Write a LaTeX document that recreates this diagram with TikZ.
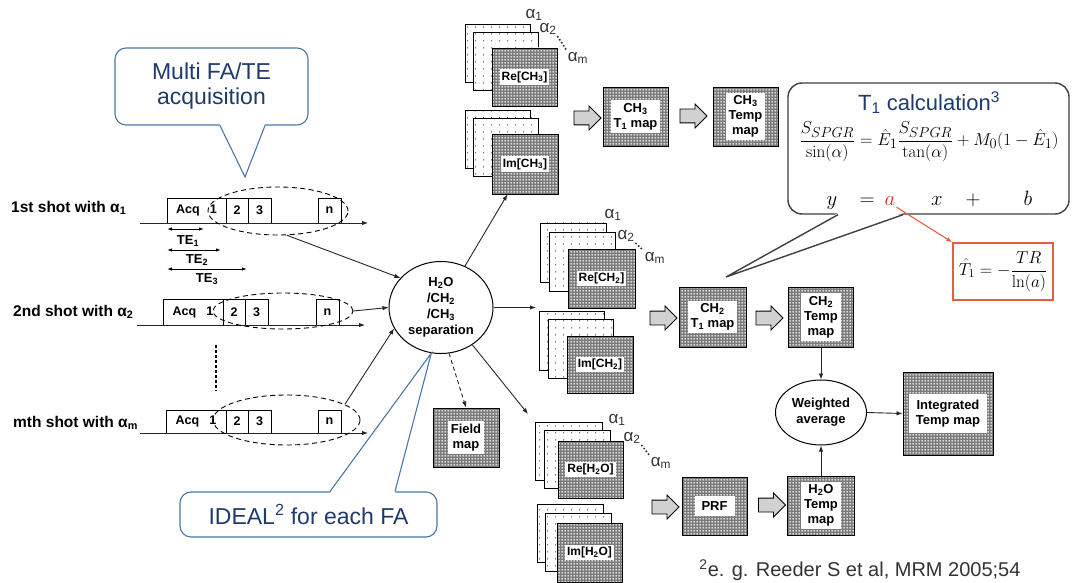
\documentclass[tikz,border=0pt]{standalone}
\usepackage[no-math]{fontspec}
\setmainfont{Liberation Sans}
\usetikzlibrary{arrows.meta,patterns,shapes.geometric,shapes.arrows}

\definecolor{calloutblue}{HTML}{4A76A8}
\definecolor{callouttext}{HTML}{1F3B6B}
\definecolor{formred}{HTML}{E02A20}
\definecolor{boxred}{HTML}{E2603F}

% dense mesh for the map boxes, sparse dots for the image sheets
\pgfdeclarepatternformonly{meshdots}{\pgfqpoint{0pt}{0pt}}{\pgfqpoint{3pt}{3pt}}{\pgfqpoint{3pt}{3pt}}{\pgfpathcircle{\pgfqpoint{1.5pt}{1.5pt}}{1.05pt}\pgfusepath{fill}}
\pgfdeclarepatternformonly{sparsedots}{\pgfqpoint{0pt}{0pt}}{\pgfqpoint{8pt}{7pt}}{\pgfqpoint{8pt}{7pt}}{\pgfpathcircle{\pgfqpoint{4pt}{3.5pt}}{0.7pt}\pgfusepath{fill}}

\tikzset{
  arr/.style={-{Latex[length=6pt,width=4.5pt]}, line width=0.9pt, black!85},
  dimarr/.style={{Latex[length=5pt,width=3.5pt]}-{Latex[length=5pt,width=3.5pt]}, line width=0.9pt},
  lbl/.style={font=\fontsize{15.5}{17}\selectfont\bfseries, inner sep=0pt},
  telbl/.style={font=\fontsize{13}{15}\selectfont\bfseries, inner sep=0pt},
  tbox/.style={draw, line width=0.9pt, minimum height=25pt, inner sep=0pt, font=\fontsize{12.5}{14}\selectfont\bfseries},
  echo/.style={ellipse, draw, line width=0.9pt, dash pattern=on 5pt off 3.5pt, inner sep=0pt},
  sepnode/.style={ellipse, draw, line width=1pt, fill=white, minimum width=104pt, minimum height=92pt, inner sep=0pt, align=center, font=\fontsize{13}{16}\selectfont\bfseries},
  sheet/.style={draw, line width=0.8pt, preaction={fill=white}, pattern=sparsedots, pattern color=black!85},
  mapbox/.style={draw, line width=0.9pt, preaction={fill=black!52}, pattern=meshdots, pattern color=white, minimum width=65pt, minimum height=59pt, inner sep=0pt},
  maptxt/.style={fill=white, inner sep=3pt, align=center, font=\fontsize{13}{15}\selectfont\bfseries},
  stacktxt/.style={fill=white, inner sep=2pt, font=\fontsize{12}{14}\selectfont\bfseries},
  alph/.style={font=\fontsize{17}{17}\selectfont, text=black!80, inner sep=0pt},
  alphdots/.style={line width=2.2pt, dash pattern=on 0pt off 3.6pt, line cap=round, black!80, shorten <=2pt, shorten >=2pt},
  barrow/.style={single arrow, draw, line width=0.8pt, fill=black!18, minimum height=27pt, minimum width=23pt, inner xsep=0pt, inner ysep=6.5pt, single arrow head extend=5pt},
  wavgnode/.style={ellipse, draw, line width=1pt, minimum width=91pt, minimum height=65pt, inner sep=0pt, align=center, font=\fontsize{13}{16}\selectfont\bfseries},
  callout/.style={draw=calloutblue, line width=1.1pt, rounded corners=11pt, fill=white, text=callouttext, align=center, font=\fontsize{23}{25}\selectfont, inner sep=0pt},
  calloutline/.style={draw=calloutblue, line width=1.1pt},
  t1call/.style={draw=black!75, line width=1.4pt, rounded corners=14pt, fill=white, inner sep=0pt},
  t1line/.style={draw=black!75, line width=1.4pt},
  eqsym/.style={font=\fontsize{22}{24}\selectfont, inner sep=1pt, anchor=base},
  t1hatbox/.style={draw=boxred, line width=1.4pt, fill=white, font=\fontsize{17}{19}\selectfont, inner sep=0pt},
  redarr/.style={-{Latex[length=6pt,width=4.5pt]}, draw=boxred, line width=1.1pt},
}

\begin{document}
\begin{tikzpicture}[x=1pt,y=-1pt]
  \useasboundingbox (0,0) rectangle (1072,583);

  % callout over the acquisition
  \node[callout, minimum width=193pt, minimum height=77pt] (multi) at (211.5,86.5) {Multi FA/TE\\acquisition};
  \coordinate (multitip) at (245,177);
  \fill[white] ([xshift=8.5pt,yshift=1.5pt]multi.south) -- (multitip) -- ([xshift=53.5pt,yshift=1.5pt]multi.south) -- cycle;
  \draw[calloutline] ([xshift=8.5pt]multi.south) -- (multitip) -- ([xshift=53.5pt]multi.south);

  % 1st shot
  \node[lbl, anchor=west] (shot1) at (11,208) {1st shot with α\textsubscript{1}};
  \node[tbox, minimum width=59pt] (acq1) at (196.5,210.5) {Acq\hspace{10pt}1};
  \node[tbox, minimum width=22pt] (b12) at (237,210.5) {2};
  \node[tbox, minimum width=23pt] (b13) at (259.5,210.5) {3};
  \node[tbox, minimum width=23pt] (b1n) at (329.5,210.5) {n};
  \coordinate (t1a) at (140,223);
  \coordinate (t1b) at (368,223);
  \draw[arr] (t1a) -- (t1b);
  \node[echo, minimum width=140pt, minimum height=48pt] (e1) at (278,211) {};

  \coordinate (te1a) at (167,229); \coordinate (te1b) at (204,229);
  \coordinate (te2a) at (167,250); \coordinate (te2b) at (221,250);
  \coordinate (te3a) at (167,269); \coordinate (te3b) at (247,269);
  \draw[dimarr] (te1a) -- (te1b);
  \draw[dimarr] (te2a) -- (te2b);
  \draw[dimarr] (te3a) -- (te3b);
  \node[telbl] (te1) at (188,241) {TE\textsubscript{1}};
  \node[telbl] (te2) at (197,260) {TE\textsubscript{2}};
  \node[telbl] (te3) at (207,279) {TE\textsubscript{3}};

  % 2nd shot
  \node[lbl, anchor=west] (shot2) at (13,312) {2nd shot with α\textsubscript{2}};
  \node[tbox, minimum width=60pt, minimum height=26pt] (acq2) at (193,312) {Acq\hspace{10pt}1};
  \node[tbox, minimum width=22pt, minimum height=26pt] (b22) at (234,312) {2};
  \node[tbox, minimum width=23pt, minimum height=26pt] (b23) at (256.5,312) {3};
  \node[tbox, minimum width=23pt, minimum height=26pt] (b2n) at (327.5,312) {n};
  \coordinate (t2a) at (137,325);
  \coordinate (t2b) at (365,325);
  \draw[arr] (t2a) -- (t2b);
  \node[echo, minimum width=140pt, minimum height=36pt] (e2) at (283,311) {};

  \draw[line width=2.5pt, dash pattern=on 2.5pt off 2.5pt] (216,345) -- (216,391);

  % mth shot
  \node[lbl, anchor=west] (shotm) at (13,423) {mth shot with α\textsubscript{m}};
  \node[tbox, minimum width=60pt, minimum height=23pt] (acqm) at (196,421.5) {Acq\hspace{10pt}1};
  \node[tbox, minimum width=22pt, minimum height=23pt] (bm2) at (237,421.5) {2};
  \node[tbox, minimum width=23pt, minimum height=23pt] (bm3) at (259.5,421.5) {3};
  \node[tbox, minimum width=23pt, minimum height=23pt] (bmn) at (329.5,421.5) {n};
  \coordinate (tma) at (140,433);
  \coordinate (tmb) at (368,433);
  \draw[arr] (tma) -- (tmb);
  \node[echo, minimum width=147pt, minimum height=50pt] (em) at (286.5,420) {};

  % separation
  \node[sepnode] (sep) at (441,307.5) {H\textsubscript{2}O\\/CH\textsubscript{2}\\/CH\textsubscript{3}\\separation};
  \draw[arr] (e1.-70) -- (sep.144);
  \draw[arr] (e2.east) -- (sep.west);
  \draw[arr] (em.15) -- (sep.204);

  % CH3 images
  \draw[sheet] (465,24) rectangle (530,82);
  \draw[sheet] (473,32) rectangle (538,90);
  \node[mapbox, minimum height=58pt] (rech3) at (524.5,77) {};
  \node[stacktxt] (rech3txt) at (rech3) {Re[CH\textsubscript{3}]};
  \draw[sheet] (465,110) rectangle (530,168);
  \draw[sheet] (473,118) rectangle (538,176);
  \node[mapbox, minimum width=66pt, minimum height=60pt] (imch3) at (525,164) {};
  \node[stacktxt] (imch3txt) at (imch3) {Im[CH\textsubscript{3}]};
  \node[alph] (ch3a1) at (534,15) {α\textsubscript{1}};
  \node[alph] (ch3a2) at (548,29) {α\textsubscript{2}};
  \node[alph] (ch3am) at (578,58) {α\textsubscript{m}};
  \draw[alphdots] (ch3a2.south east) -- (ch3am.north west);

  % CH2 images
  \draw[sheet] (540,223) rectangle (606,282);
  \draw[sheet] (549,232) rectangle (615,291);
  \node[mapbox, minimum width=67pt] (rech2) at (601.5,278.5) {};
  \node[stacktxt] (rech2txt) at (rech2) {Re[CH\textsubscript{2}]};
  \draw[sheet] (539,311) rectangle (604,370);
  \draw[sheet] (548,319) rectangle (613,378);
  \node[mapbox, minimum width=66pt, minimum height=57pt] (imch2) at (600,364.5) {};
  \node[stacktxt] (imch2txt) at (imch2) {Im[CH\textsubscript{2}]};
  \node[alph] (ch2a1) at (613,215) {α\textsubscript{1}};
  \node[alph] (ch2a2) at (626,236) {α\textsubscript{2}};
  \node[alph] (ch2am) at (655,258) {α\textsubscript{m}};
  \draw[alphdots] (ch2a2.south east) -- (ch2am.north west);

  % H2O images
  \draw[sheet] (535,422) rectangle (602,480);
  \draw[sheet] (544,430) rectangle (610,488);
  \node[mapbox, minimum height=57pt] (reh2o) at (590.5,469.5) {};
  \node[stacktxt] (reh2otxt) at (reh2o) {Re[H\textsubscript{2}O]};
  \draw[sheet] (537,504) rectangle (603,562);
  \draw[sheet] (545,513) rectangle (611,571);
  \node[mapbox] (imh2o) at (589.5,552.5) {};
  \node[stacktxt] (imh2otxt) at (imh2o) {Im[H\textsubscript{2}O]};
  \node[alph] (h2oa1) at (617,420) {α\textsubscript{1}};
  \node[alph] (h2oa2) at (632,438) {α\textsubscript{2}};
  \node[alph] (h2oam) at (661,463) {α\textsubscript{m}};
  \draw[alphdots] (h2oa2.south east) -- (h2oam.north west);

  % field map
  \node[mapbox, minimum width=66pt] (field) at (466,437.5) {};
  \node[maptxt] (fieldtxt) at (field) {Field\\map};

  \coordinate (ch2in) at (536,307.5);
  \coordinate (h2oin) at (528,414);
  \draw[arr] (sep.60) -- (imch3.-120);
  \draw[arr] (sep.east) -- (ch2in);
  \draw[arr, dash pattern=on 4pt off 3pt] (sep.-80) -- (field.north);
  \draw[arr] (sep.-50) -- (h2oin);

  % maps
  \node[barrow] (ba1) at (584,118) {};
  \node[mapbox] (ch3t1) at (635.5,116.5) {};
  \node[maptxt] (ch3t1txt) at (ch3t1) {CH\textsubscript{3}\\T\textsubscript{1} map};
  \node[barrow] (ba2) at (690,116) {};
  \node[mapbox] (ch3temp) at (745.5,116.5) {};
  \node[maptxt] (ch3temptxt) at (ch3temp) {CH\textsubscript{3}\\Temp\\map};

  \node[barrow] (ba3) at (660,318) {};
  \node[mapbox, minimum width=67pt, minimum height=60pt] (ch2t1) at (712.5,317) {};
  \node[maptxt] (ch2t1txt) at (ch2t1) {CH\textsubscript{2}\\T\textsubscript{1} map};
  \node[barrow] (ba4) at (766,318) {};
  \node[mapbox, minimum height=60pt] (ch2temp) at (821,317) {};
  \node[maptxt] (ch2temptxt) at (ch2temp) {CH\textsubscript{2}\\Temp\\map};

  \node[barrow] (ba5) at (662,507) {};
  \node[mapbox, minimum height=58pt] (prf) at (714.5,506) {};
  \node[maptxt, inner xsep=7pt, inner ysep=6pt] (prftxt) at (prf) {PRF};
  \node[barrow] (ba6) at (768.5,505) {};
  \node[mapbox, minimum width=67pt] (h2otemp) at (821,505.5) {};
  \node[maptxt] (h2otemptxt) at (h2otemp) {H\textsubscript{2}O\\Temp\\map};

  \node[wavgnode] (wavg) at (821,412.5) {Weighted\\average};
  \node[mapbox, minimum width=90pt, minimum height=83pt] (integ) at (948,413.5) {};
  \node[maptxt, inner xsep=7pt, inner ysep=6pt] (integtxt) at (integ) {Integrated\\Temp map};
  \draw[arr] (ch2temp.south) -- (wavg.north);
  \draw[arr] (h2otemp.north) -- (wavg.south);
  \draw[arr] (wavg.east) -- (integ.west);

  % T1 calculation callout
  \node[t1call, minimum width=281pt, minimum height=131pt] (t1box) at (928.5,148.5) {};
  \coordinate (t1tip) at (726,277);
  \fill[white] ([xshift=-90.5pt,yshift=1.5pt]t1box.south) -- (t1tip) -- ([xshift=-25.5pt,yshift=1.5pt]t1box.south) -- cycle;
  \draw[t1line] ([xshift=-90.5pt]t1box.south) -- (t1tip) -- ([xshift=-25.5pt]t1box.south);
  \node[text=callouttext, font=\fontsize{22}{24}\selectfont, inner sep=1pt] (t1title) at (929,103) {T\textsubscript{1} calculation\textsuperscript{3}};
  \node[font=\fontsize{19}{21}\selectfont, inner sep=1pt] (t1eq) at (929,142) {$\displaystyle \frac{S_{SPGR}}{\sin(\alpha)} = \hat{E}_1\frac{S_{SPGR}}{\tan(\alpha)} + M_0\bigl(1-\hat{E}_1\bigr)$};
  \node[eqsym] (ly) at (832,206) {$y$};
  \node[eqsym] (leq) at (867,206) {$=$};
  \node[eqsym] (la) at (890,206) {$\color{formred}a$};
  \node[eqsym] (lx) at (937,206) {$x$};
  \node[eqsym] (lplus) at (973,206) {$+$};
  \node[eqsym] (lb) at (1028,206) {$b$};

  \node[t1hatbox, minimum width=100pt, minimum height=57pt] (t1hat) at (1003,271.5) {$\displaystyle \hat{T}_1 = -\frac{TR}{\ln(a)}$};
  \draw[redarr] (la.south east) -- (t1hat.north west);

  % IDEAL callout
  \node[callout, minimum width=257pt, minimum height=45pt] (ideal) at (308.5,514.5) {IDEAL\textsuperscript{2} for each FA};
  \fill[white] ([xshift=21.5pt,yshift=-1.5pt]ideal.north) -- (sep.-102) -- ([xshift=86.5pt,yshift=-1.5pt]ideal.north) -- cycle;
  \draw[calloutline] ([xshift=21.5pt]ideal.north) -- (sep.-102) -- ([xshift=86.5pt]ideal.north);

  \node[font=\fontsize{20}{22}\selectfont, text=black!80] (cite) at (860,570) {\textsuperscript{2}e. g. Reeder S et al, MRM 2005;54};
\end{tikzpicture}
\end{document}
